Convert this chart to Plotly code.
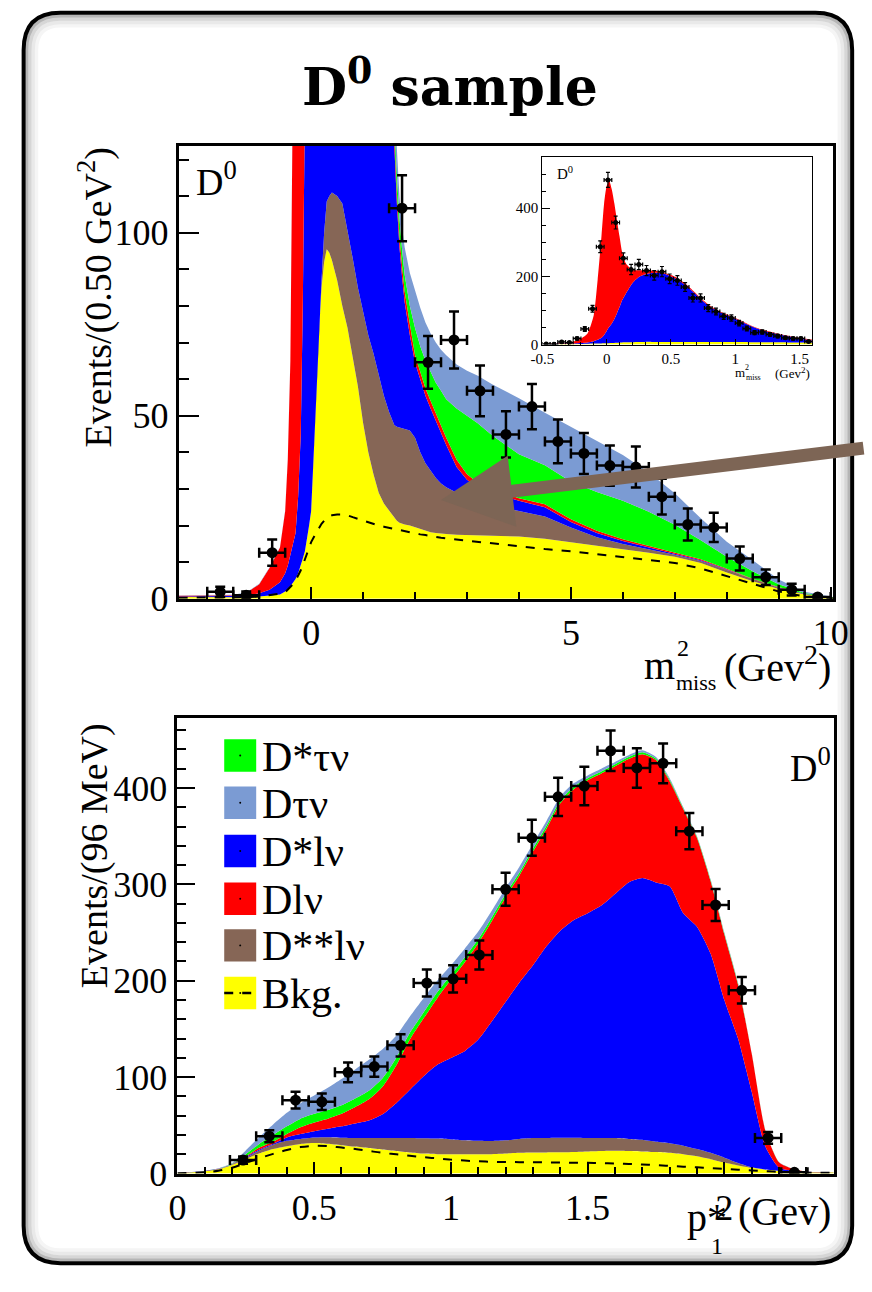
import plotly.graph_objects as go

W, H = 872, 1292
FONT = "Liberation Serif"

def fx(px):
    return px / W

def fy(py):
    return 1 - py / H

# ---------------- top panel : m2_miss (0.50 GeV^2 bins) ----------------
m2_x = [-2.55, -2.0, -1.5, -1.25, -1.0, -0.8, -0.6, -0.5, -0.45, -0.4, -0.35, -0.3, -0.25, -0.2, -0.16, -0.12, -0.08, -0.04,
        0.0, 0.05, 0.1, 0.15, 0.2, 0.25, 0.3, 0.35, 0.4, 0.45, 0.5, 0.6, 0.7, 0.8, 0.9, 1.0, 1.1, 1.2, 1.3, 1.4, 1.5,
        1.6, 1.65, 1.7, 1.75, 1.8, 1.9, 2.0, 2.1, 2.2, 2.3, 2.4, 2.5, 2.6, 2.8, 3.0, 3.2, 3.5, 4.0, 4.5, 5.0, 5.5,
        6.0, 6.5, 7.0, 7.5, 8.0, 8.5, 9.0, 9.5, 10.05]
# upper edge of each stacked layer
m2_bkg = [0.5, 0.4, 0.3, 0.4, 0.6, 0.8, 1.2, 2.0, 2.7, 3.5, 4.4, 5.4, 7.0, 9.0, 11, 13, 16, 20,
          24, 40, 58, 73, 85, 92, 95.5, 94.5, 92.5, 90, 87, 80, 74, 66, 58, 48, 40, 34, 29, 26, 24,
          22, 21.3, 20.8, 20.5, 20.3, 20, 19.5, 19, 18.5, 18.2, 18, 17.8, 17.7, 17.5, 17.4, 17.3, 17.3, 17, 16.4, 15.5, 14.4,
          13.5, 12.6, 11.5, 9.8, 7.2, 4.8, 2.7, 1.2, 0.3]
m2_dssl = [0.5, 0.4, 0.3, 0.4, 0.6, 0.8, 1.2, 2.0, 2.7, 3.5, 4.4, 5.4, 7.0, 9.0, 11, 13, 16, 20,
           24, 40, 58, 73, 87, 100, 108.5, 110, 111, 110.5, 110, 108, 101, 93, 85, 78, 72, 67, 61, 55.5, 51,
           47.5, 47, 46.8, 46.6, 46.5, 46, 44, 40, 37, 35, 33, 31.5, 30.5, 29, 28, 27, 25.5, 24, 22.5, 19.5, 16.8,
           15, 13.6, 12, 10.3, 7.8, 5.3, 3.0, 1.3, 0.3]
m2_dsl = [0.6, 0.6, 0.6, 0.8, 1.5, 2.5, 4.5, 7, 9, 12, 14.5, 18, 28, 45, 81, 123, 220, 350,
          500, 600, 700, 760, 800, 820, 830, 830, 830, 820, 810, 780, 740, 690, 630, 560, 480, 400, 320, 250, 180,
          124, 108, 96, 88, 81, 72, 64.5, 60, 55.5, 52, 48.5, 45.5, 42, 36, 32.5, 30.5, 28.8, 26.8, 25, 21, 18,
          15.8, 14, 12.2, 10.5, 8.0, 5.4, 3.1, 1.4, 0.3]
m2_dl = [0.8, 0.8, 1.0, 1.6, 4.0, 8.5, 14, 24, 38, 65, 100, 140, 260, 400, 500, 600, 700, 800,
         900, 950, 980, 1000, 1000, 990, 970, 950, 930, 900, 880, 840, 790, 730, 660, 590, 500, 420, 335, 262, 188,
         127, 111, 99, 91, 84, 75, 66.5, 62, 57.5, 54, 50.5, 47.5, 44, 38, 34, 31.8, 29.8, 27.5, 25.8, 21.7, 18.6,
         16.3, 14.4, 12.5, 10.8, 8.2, 5.5, 3.2, 1.4, 0.3]
m2_dstn = [0.8, 0.8, 1.0, 1.6, 4.0, 8.5, 14, 24, 38, 65, 100.5, 141, 262, 403, 505, 606, 707, 808,
           910, 960, 990, 1010, 1010, 1000, 980, 960, 940, 910, 890, 850, 800, 740, 670, 600, 510, 430, 345, 270, 195,
           131, 116, 104, 95.5, 88.5, 80, 74, 69, 65, 62, 59, 56.8, 54.5, 52, 50, 48, 44.5, 39.5, 36.5, 32, 29.2,
           26.8, 23.8, 20.2, 16, 11.5, 7.5, 4.0, 1.6, 0.4]
m2_dtn = [0.9, 0.9, 1.1, 1.7, 4.1, 8.6, 14.1, 24.2, 38.3, 65.5, 101, 142, 264, 406, 510, 612, 714, 816,
          920, 970, 1000, 1020, 1020, 1010, 990, 970, 950, 920, 900, 860, 810, 750, 680, 610, 520, 440, 355, 280, 205,
          137, 123, 110, 101.5, 96, 89, 84, 79.5, 75.5, 72.5, 70, 68, 66.5, 64, 62.3, 61, 58.5, 54.8, 50.8, 47, 43.3,
          39.3, 34.5, 28.8, 22, 15.6, 10.5, 5.3, 1.9, 0.5]
m2_bkg_line = [0.3, 0.3, 0.3, 0.4, 0.6, 0.9, 1.4, 1.8, 2.5, 3.2, 4.0, 5.0, 6.3, 7.8, 9.2, 10.8, 12.3, 13.9,
               15.5, 16.8, 18, 19.5, 20.5, 21.3, 22, 22.5, 22.8, 23, 23, 23, 22.8, 22.3, 21.8, 21.3, 20.8, 20.4, 20, 19.7, 19.4,
               19, 18.8, 18.6, 18.5, 18.3, 18.1, 17.8, 17.6, 17.4, 17.1, 16.9, 16.7, 16.5, 16.2, 15.8, 15.5, 15, 14.2, 13.6, 13, 12.2,
               11.5, 10.6, 9.8, 8.3, 6.2, 4, 2, 0.6, 0.1]

m2_pts_x = [-1.75, -1.25, -0.75, 1.75, 2.25, 2.75, 3.25, 3.75, 4.25, 4.75, 5.25, 5.75, 6.25, 6.75, 7.25, 7.75, 8.25, 8.75, 9.25, 9.75]
m2_pts_y = [1.9, 1.0, 12.6, 106.7, 64.6, 70.7, 56.8, 44.9, 52.5, 43.0, 39.7, 36.4, 36.0, 27.9, 20.3, 19.5, 11.0, 5.9, 2.5, 0.5]
m2_pts_err = [1.4, 1.0, 3.6, 9.0, 7.2, 7.8, 6.9, 6.3, 6.2, 6.0, 5.6, 5.5, 5.6, 4.9, 4.4, 4.0, 3.3, 2.1, 1.6, 0.5]

# ---------------- inset : m2_miss fine binning ----------------
ins_x = [-0.5, -0.4, -0.3, -0.25, -0.2, -0.15, -0.1, -0.07, -0.04, -0.02,
         0.0, 0.02, 0.04, 0.06, 0.08, 0.1, 0.12, 0.15, 0.2, 0.25,
         0.3, 0.35, 0.4, 0.45, 0.5, 0.55, 0.6, 0.65, 0.7, 0.75,
         0.8, 0.9, 1.0, 1.1, 1.2, 1.3, 1.4, 1.5, 1.6]
ins_bkg = [0.8, 1, 1.5, 1.8, 2, 2.5, 3, 3.3, 3.6, 3.8,
           4, 4.3, 4.6, 5, 5.4, 5.8, 6.2, 6.6, 7, 7.5,
           8, 8, 8, 8, 8, 8, 8, 8, 8, 8,
           8, 7.8, 7.5, 7.2, 7, 6.7, 6.4, 6.2, 6]
ins_dsl = [1.5, 2, 3, 3.5, 4.5, 6, 10, 14, 20, 28,
           40, 52, 62, 75, 92, 110, 130, 150, 180, 198,
           206, 210, 211, 208, 200, 191, 178, 162, 145, 127,
           112, 92, 76, 58, 43, 33, 25, 18, 12]
ins_dl = [2, 3, 6, 10, 18, 32, 87, 190, 320, 414,
          465, 480, 455, 414, 365, 318, 272, 238, 219, 218,
          219, 217, 215, 211, 204, 195, 182, 166, 148, 130,
          115, 94, 78, 60, 45, 35, 27, 20, 14]
ins_pts_x = [-0.47, -0.41, -0.35, -0.29, -0.23, -0.17, -0.11, -0.05, 0.01, 0.07, 0.13, 0.19, 0.25, 0.31, 0.37, 0.43, 0.49,
             0.55, 0.61, 0.67, 0.73, 0.79, 0.85, 0.91, 0.97, 1.03, 1.09, 1.15, 1.21, 1.27, 1.33, 1.39, 1.45, 1.51, 1.57]
ins_pts_y = [2, 1, 8, 6, 18, 46, 105, 287, 483, 358, 253, 220, 235, 217, 203, 214, 193,
             188, 169, 137, 137, 107, 97, 83, 78, 63, 47, 35, 37, 30, 25, 20, 18, 18, 9]
ins_pts_err = [1.5, 1, 3, 2.5, 4, 7, 10, 17, 22, 19, 16, 15, 15, 15, 14, 15, 14,
               14, 13, 12, 12, 10, 10, 9, 9, 8, 7, 6, 6, 5.5, 5, 4.5, 4, 4, 3]

# ---------------- bottom panel : p*_l (96 MeV bins) ----------------
p_x = [0.0, 0.1, 0.15, 0.2, 0.25, 0.3, 0.35, 0.4, 0.45, 0.5, 0.55, 0.6, 0.65, 0.7, 0.75, 0.8, 0.85, 0.9, 0.95, 1.0,
       1.05, 1.1, 1.15, 1.2, 1.25, 1.3, 1.35, 1.4, 1.45, 1.5, 1.55, 1.6, 1.65, 1.7, 1.75, 1.8, 1.85, 1.9, 1.95, 2.0,
       2.05, 2.1, 2.15, 2.2, 2.25, 2.3, 2.4]
p_bkg = [0.5, 2.5, 4.5, 9, 15, 21, 25.5, 28.5, 30.8, 31.8, 31, 29.5, 28, 26.5, 25, 23.5, 22, 20.8, 20.2, 20,
         20, 20, 20.2, 20.8, 21.5, 21.8, 22, 22.1, 22.5, 23, 23.5, 23.7, 23.5, 23, 22.3, 21.5, 20, 18, 15, 11.5,
         8.5, 6, 4, 2.8, 2, 1.5, 1.2]
p_dssl = [0.5, 2.5, 4.6, 9.3, 16, 24, 30, 34, 36, 37.5, 37.8, 37.3, 37, 37, 37, 37, 37, 36.7, 36.3, 35.5,
          34.6, 34, 33.8, 34.5, 36, 36.8, 37, 37.2, 37.2, 37, 37, 36.8, 36, 35, 33, 31.5, 29, 25.5, 21.5, 16.5,
          11, 6.5, 4.2, 2.9, 2.1, 1.6, 1.3]
p_dsl = [0.6, 2.7, 4.8, 9.5, 17, 25, 31, 37.5, 41, 44, 46.5, 49, 52, 55, 61.5, 73, 87, 101, 113, 120,
         127, 139, 158, 178, 198, 216, 236, 252, 263, 270, 278, 290, 302, 306.5, 302, 298, 270, 256, 228, 180,
         140, 85, 28, 6, 3, 1.8, 1.4]
p_dl = [0.6, 2.8, 5.0, 9.8, 18, 27, 33, 41, 48, 53, 57, 62, 69, 77, 90, 112, 139, 161, 182, 201,
        219, 239, 262, 286.5, 309, 334, 358, 384, 399, 408, 415, 422.5, 430, 435, 429, 407, 378, 348, 303, 248,
        196, 124.5, 44.5, 11.8, 5, 2, 1.5]
p_dstn = [0.6, 2.8, 5.0, 10.2, 20, 31, 40, 49, 57, 62, 66, 71, 78, 86, 99, 120, 146, 167, 188, 206,
          224, 243, 266, 290, 312, 337, 361, 387, 401.5, 410, 417, 424.5, 432, 437, 430.5, 408.5, 379, 349, 304, 249,
          197, 124.8, 44.8, 11.9, 5, 2, 1.5]
p_dtn = [0.6, 3.0, 5.5, 11, 24, 38, 51, 63, 73, 81, 89, 98, 108, 118, 129, 143, 163, 182, 200, 216,
         233, 251, 273, 296, 318, 342, 366, 391, 405, 413, 420, 427, 434, 439, 432, 410, 380, 350, 305, 250,
         198, 125, 45, 12, 5, 2, 1.5]
p_bkg_line = [0.3, 1.5, 3.0, 6, 11, 16, 20.5, 24.5, 27.5, 28.8, 28.5, 27, 25.5, 23.5, 21.5, 20, 18.5, 17, 15.8, 14.5,
              13.5, 12.8, 12.3, 12, 11.9, 11.8, 11.6, 11.5, 11.3, 11.2, 10.9, 10.5, 10, 9.5, 8.8, 8, 7.2, 6.5, 5.7, 5,
              4.1, 3.2, 2.5, 1.8, 1.3, 1.0, 0.8]

p_pts_x = [0.240, 0.336, 0.432, 0.528, 0.624, 0.720, 0.816, 0.912, 1.008, 1.104, 1.200, 1.296, 1.392, 1.488,
           1.584, 1.680, 1.776, 1.872, 1.968, 2.064, 2.160, 2.256]
p_pts_y = [14, 38.8, 76.2, 74.5, 105, 111, 133, 197.6, 202, 226.8, 294.9, 348.3, 390.8, 402,
           438.5, 420.7, 425.5, 355.1, 278.6, 190.1, 37, 1.3]
p_pts_err = [3.7, 6.2, 8.7, 8.6, 10.2, 10.5, 11.5, 14.0, 14.2, 15.0, 17.2, 18.7, 19.8, 20.0,
             21.0, 20.5, 20.6, 18.8, 16.7, 13.8, 6.1, 1.2]

# ---------------- legend ----------------
legend_labels = ["D*τν", "Dτν", "D*lν", "Dlν", "D**lν", "Bkg."]
C_DSTN, C_DTN, C_DSL, C_DL, C_DSSL, C_BKG = "#00ff00", "#7b9bd3", "#0000ff", "#ff0000", "#866656", "#ffff00"
legend_colors = [C_DSTN, C_DTN, C_DSL, C_DL, C_DSSL, C_BKG]

fig = go.Figure()


def add_stack(xs, tops, colors, xa, ya, shape="linear"):
    for i, (ys, c) in enumerate(zip(tops, colors)):
        fig.add_trace(go.Scatter(
            x=xs, y=ys, mode="lines", line=dict(width=0, color=c, shape=shape, smoothing=0.6),
            fill="tozeroy" if i == 0 else "tonexty", fillcolor=c,
            xaxis=xa, yaxis=ya, hoverinfo="skip", showlegend=False))


def add_points(xs, ys, errs, xerr, xa, ya, size, lw, cap):
    fig.add_trace(go.Scatter(
        x=xs, y=ys, mode="markers", marker=dict(color="black", size=size),
        error_y=dict(type="data", array=errs, color="black", thickness=lw, width=cap),
        error_x=dict(type="constant", value=xerr, color="black", thickness=lw, width=cap),
        xaxis=xa, yaxis=ya, hoverinfo="skip", showlegend=False))


# top panel
add_stack(m2_x, [m2_bkg, m2_dssl, m2_dsl, m2_dl, m2_dstn, m2_dtn],
          [C_BKG, C_DSSL, C_DSL, C_DL, C_DSTN, C_DTN], "x", "y")
fig.add_trace(go.Scatter(x=m2_x, y=m2_bkg_line, mode="lines", line=dict(color="black", width=2, dash="dash"),
                         xaxis="x", yaxis="y", hoverinfo="skip", showlegend=False))
add_points(m2_pts_x, m2_pts_y, m2_pts_err, 0.25, "x", "y", 11, 2.5, 5)

# inset
add_stack(ins_x, [ins_bkg, ins_dsl, ins_dl], [C_BKG, C_DSL, C_DL], "x2", "y2", shape="spline")
add_points(ins_pts_x, ins_pts_y, ins_pts_err, 0.03, "x2", "y2", 5, 1.2, 2)

# bottom panel
add_stack(p_x, [p_bkg, p_dssl, p_dsl, p_dl, p_dstn, p_dtn],
          [C_BKG, C_DSSL, C_DSL, C_DL, C_DSTN, C_DTN], "x3", "y3", shape="spline")
fig.add_trace(go.Scatter(x=p_x, y=p_bkg_line, mode="lines", line=dict(color="black", width=2, dash="dash", shape="spline"),
                         xaxis="x3", yaxis="y3", hoverinfo="skip", showlegend=False))
add_points(p_pts_x, p_pts_y, p_pts_err, 0.048, "x3", "y3", 11, 2.5, 5)


def axis(domain, rng, anchor, dtick, tlen, mdtick, mlen, size, lw, **kw):
    tw = lw if lw < 2 else 2
    d = dict(domain=domain, range=rng, anchor=anchor, dtick=dtick, tick0=0, ticks="inside", ticklen=tlen,
             tickwidth=tw, tickcolor="black",
             minor=dict(dtick=mdtick, ticklen=mlen, tickwidth=tw, ticks="inside", tickcolor="black"),
             showline=True, linewidth=lw, linecolor="black", mirror=True, showgrid=False, zeroline=False,
             tickfont=dict(family=FONT, size=size, color="black"))
    d.update(kw)
    return d


fig.update_layout(
    width=W, height=H, autosize=False, margin=dict(l=0, r=0, t=0, b=0, pad=0),
    paper_bgcolor="white", plot_bgcolor="rgba(0,0,0,0)", showlegend=False,
    font=dict(family=FONT, color="black"),
    xaxis=axis([fx(172), fx(847.5)], [-2.55, 10.05], "y", 5, 12, 1, 7, 36, 3),
    yaxis=axis([fy(608.7), fy(148)], [0, 123.8], "x", 50, 20, 10, 10, 36, 3),
    xaxis2=axis([fx(547.3), fx(826)], [-0.5, 1.6], "y2", 0.5, 6, 0.1, 3, 15, 1.2,
                tickmode="array", tickvals=[-0.5, 0, 0.5, 1, 1.5], ticktext=["-0.5", "0", "0.5", "1", "1.5"]),
    yaxis2=axis([fy(350.3), fy(159.3)], [0, 551], "x2", 200, 8, 50, 4, 15, 1.2),
    xaxis3=axis([fx(170.7), fx(848)], [0, 2.4], "y3", 0.5, 12, 0.1, 7, 36, 3),
    yaxis3=axis([fy(1193), fy(730)], [0, 472.4], "x3", 100, 18, 20, 9, 36, 3),
)

anns = []


def ann(text, px, py, size, xanchor="center", yanchor="middle", family=FONT, **kw):
    d = dict(text=text, x=fx(px), y=fy(py), xref="paper", yref="paper", showarrow=False,
             xanchor=xanchor, yanchor=yanchor, font=dict(family=family, size=size, color="black"))
    d.update(kw)
    anns.append(d)


# title
ann("<b>D<sup>0</sup> sample</b>", 452, 84, 52, family="DejaVu Serif")
# panel labels
ann("D<sup>0</sup>", 188, 182, 38, xanchor="left")
ann("D<sup>0</sup>", 847, 778, 38, xanchor="right")
ann("D<sup>0</sup>", 560, 176, 15, xanchor="left")
# y titles
ann("Events/(0.50 GeV<sup>2</sup>)", 86, 302, 38, textangle=-90)
ann("Events/(96 MeV)", 86, 870, 38, textangle=-90)
# top x title  m^2_miss (Gev^2)
ann("m", 668, 676, 40)
ann("2", 692, 659, 24)
ann("miss", 683, 694, 22, xanchor="left")
ann("(Gev<sup>2</sup>)", 847, 675, 40, xanchor="right")
# bottom x title  p*_1 (Gev)
ann("p*", 740, 1238, 40, xanchor="right")
ann("1", 728, 1267, 24)
ann("(Gev)", 847, 1232, 40, xanchor="right")
# inset x title
ann("m", 751, 379, 13)
ann("2", 758, 374, 8)
ann("miss", 755, 384, 8, xanchor="left")
ann("(Gev<sup>2</sup>)", 826, 379, 13, xanchor="right")

# legend texts
leg_rows = [768, 816, 865, 913.5, 961, 1009.5]
for lab, yy in zip(legend_labels, leg_rows):
    ann(lab, 256, yy + 1, 42, xanchor="left")

# brown arrow (tail at the right edge of the page)
anns.append(dict(x=2.5, y=27, xref="x", yref="y", ax=424, ay=-52, axref="pixel", ayref="pixel",
                 text="", showarrow=True, arrowhead=2, arrowsize=1.1, arrowwidth=13,
                 arrowcolor="#7d6555", standoff=0))

fig.update_layout(annotations=anns)

# shapes: frame (with soft inner shadow) + legend boxes
shapes = []


def rrect(l, t, r, b, rad):
    P = lambda x, y: f"{fx(x):.5f},{fy(y):.5f}"
    return (f"M {P(l + rad, t)} L {P(r - rad, t)} Q {P(r, t)} {P(r, t + rad)} L {P(r, b - rad)} "
            f"Q {P(r, b)} {P(r - rad, b)} L {P(l + rad, b)} Q {P(l, b)} {P(l, b - rad)} "
            f"L {P(l, t + rad)} Q {P(l, t)} {P(l + rad, t)} Z")


FL, FT, FR, FB = 12, 13, 867, 1284
for inset, col, wdt in [(13, "#f5f5f5", 4), (9.5, "#e9e9e9", 4), (6, "#d6d6d6", 4), (3.2, "#b5b5b5", 3)]:
    shapes.append(dict(type="path", xref="paper", yref="paper",
                       path=rrect(FL + inset, FT + inset, FR - inset, FB - inset, max(38 - inset, 10)),
                       line=dict(color=col, width=wdt), layer="below"))
shapes.append(dict(type="path", xref="paper", yref="paper", path=rrect(FL, FT, FR, FB, 38),
                   line=dict(color="black", width=4), layer="above"))

for col, yy in zip(legend_colors, leg_rows):
    shapes.append(dict(type="rect", xref="paper", yref="paper", x0=fx(219), x1=fx(252),
                       y0=fy(yy + 16.5), y1=fy(yy - 16.5), fillcolor=col, line=dict(width=0), layer="above"))
    shapes.append(dict(type="circle", xref="paper", yref="paper", x0=fx(234.5), x1=fx(236.5),
                       y0=fy(yy + 1), y1=fy(yy - 1), fillcolor="black", line=dict(width=0), layer="above"))
shapes.append(dict(type="line", xref="paper", yref="paper", x0=fx(219), x1=fx(252),
                   y0=fy(leg_rows[-1]), y1=fy(leg_rows[-1]), line=dict(color="black", width=2.5, dash="dash"),
                   layer="above"))

fig.update_layout(shapes=shapes)

fig.write_html("out.html")
